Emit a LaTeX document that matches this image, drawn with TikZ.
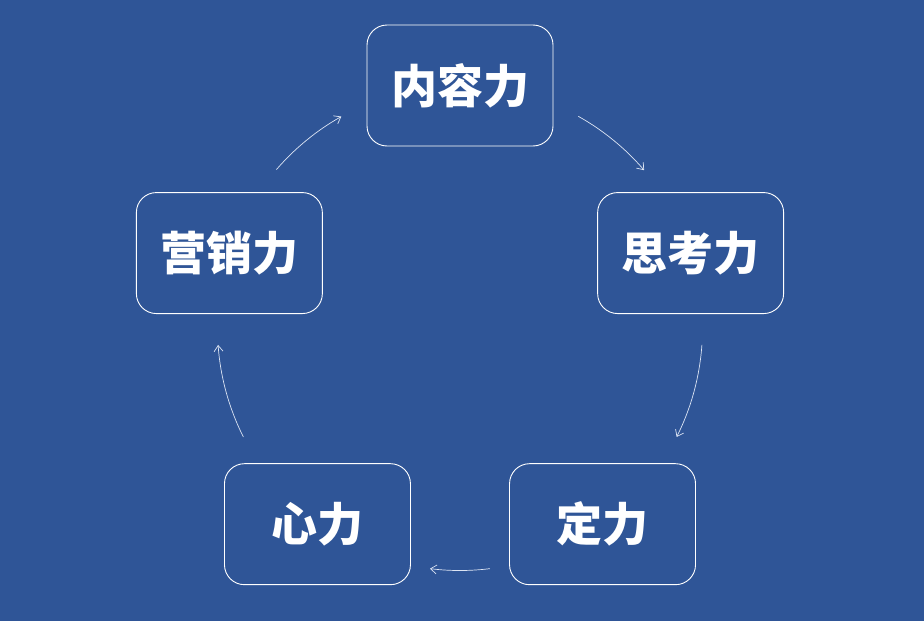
\documentclass[tikz,border=0pt]{standalone}
\usepackage{fontspec}
\newfontfamily\cjk{Noto Sans CJK SC}
\usetikzlibrary{arrows.meta,calc}
\definecolor{bgblue}{HTML}{2F5597}
\definecolor{linecol}{HTML}{DDE5F4}
\tikzset{
  box/.style={draw=white, line width=0.9pt, rounded corners=20pt,
    minimum width=186pt, minimum height=121pt, inner sep=0pt,
    text=white, font=\cjk\bfseries\fontsize{46}{50}\selectfont},
  flow/.style={draw=linecol, line width=0.7pt,
    -{Straight Barb[length=6pt,width=9pt,line width=0.7pt]}}
}
\begin{document}
\begin{tikzpicture}[x=1pt,y=-1pt]
\fill[bgblue] (0,0) rectangle (924,621);
\useasboundingbox (0,0) rectangle (924,621);
\coordinate (O) at (460,328);
\node[box] (nr) at ($(O)+(270:242.5)$) {内容力};
\node[box] (sk) at ($(O)+(-18:242.5)$) {思考力};
\node[box] (dl) at ($(O)+(54:242.5)$) {定力};
\node[box] (xl) at ($(O)+(126:242.5)$) {心力};
\node[box] (yx) at ($(O)+(198:242.5)$) {营销力};
\coordinate (a1) at ($(O)+(220.8:242.5)$);
\coordinate (a2) at ($(O)+(299.2:242.5)$);
\coordinate (a3) at ($(O)+(4:242.5)$);
\coordinate (a4) at ($(O)+(82.9:242.5)$);
\coordinate (a5) at ($(O)+(153.3:242.5)$);
\draw[flow] (a1) arc[start angle=220.8, end angle=240.7, radius=242.5];
\draw[flow] (a2) arc[start angle=299.2, end angle=319.4, radius=242.5];
\draw[flow] (a3) arc[start angle=4, end angle=26.7, radius=242.5];
\draw[flow] (a4) arc[start angle=82.9, end angle=97.1, radius=242.5];
\draw[flow] (a5) arc[start angle=153.3, end angle=176, radius=242.5];
\end{tikzpicture}
\end{document}
